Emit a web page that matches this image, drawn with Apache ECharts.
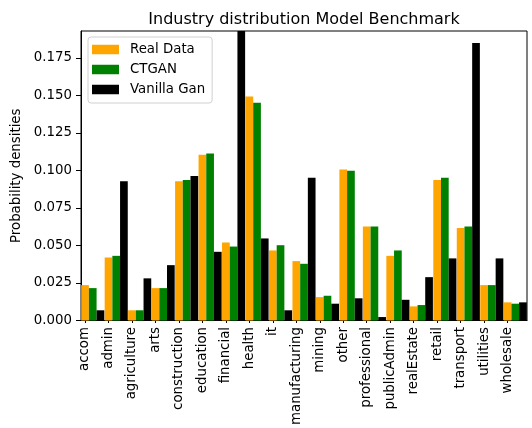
<!DOCTYPE html>
<html><head><meta charset="utf-8">
<script src="https://cdn.jsdelivr.net/npm/echarts@6/dist/echarts.min.js"></script>
<style>html,body{margin:0;padding:0;background:#fff}#c{width:532px;height:428px}</style>
</head><body><div id="c"></div>
<script>
const categories = ['accom','admin','agriculture','arts','construction','education','financial','health','it','manufacturing','mining','other','professional','publicAdmin','realEstate','retail','transport','utilities','wholesale'];
const realData = [0.0236,0.0420,0.0068,0.0216,0.0928,0.1105,0.0520,0.1493,0.0467,0.0396,0.0156,0.1007,0.0626,0.0431,0.0094,0.0937,0.0617,0.0236,0.0121];
const ctgan    = [0.0216,0.0431,0.0068,0.0216,0.0937,0.1114,0.0493,0.1451,0.0502,0.0378,0.0165,0.0999,0.0626,0.0467,0.0103,0.0952,0.0626,0.0236,0.0112];
const vanilla  = [0.0068,0.0928,0.0281,0.0369,0.0963,0.0458,0.2000,0.0547,0.0068,0.0952,0.0112,0.0148,0.0023,0.0138,0.0289,0.0414,0.1850,0.0414,0.0121];
const yTicks = [0, 0.025, 0.05, 0.075, 0.1, 0.125, 0.15, 0.175];
const yMax = 0.193;

const F = 'DejaVu Sans';
const FS = 13.33;
const chart = echarts.init(document.getElementById('c'));
const L = 81, R = 5, T = 31, B = 107.5, OFF = 7.7;
chart.setOption({
  animation: false,
  textStyle: {fontFamily: F},
  title: {text: 'Industry distribution Model Benchmark', left: 299, textAlign: 'center', top: 7,
    textStyle: {fontFamily: F, fontSize: 16, fontWeight: 'normal', color: '#000'}},
  legend: {orient: 'vertical', left: 88, top: 37, itemWidth: 27, itemHeight: 9.5, itemGap: 7, icon: 'rect',
    backgroundColor: '#fff', borderColor: '#d0d0d0', borderWidth: 1, borderRadius: 3, padding: [6, 7, 7, 4],
    textStyle: {fontFamily: F, fontSize: FS, color: '#000', padding: [0, 0, 0, 6]},
    data: ['Real Data', 'CTGAN', 'Vanilla Gan']},
  grid: [
    {left: L, right: R, top: T, bottom: B, show: true, borderColor: '#000', borderWidth: 1, backgroundColor: 'transparent'},
    {left: L - OFF, right: R + OFF, top: T, bottom: B, show: false}
  ],
  xAxis: [
    {type: 'category', gridIndex: 0, data: categories, boundaryGap: true,
     axisLine: {show: true, lineStyle: {color: '#000'}}, axisTick: {show: false}, axisLabel: {show: false}},
    {type: 'category', gridIndex: 1, data: categories, boundaryGap: true,
     axisLine: {show: false}, axisTick: {show: true, alignWithLabel: true, length: 5, lineStyle: {color: '#000'}},
     axisLabel: {rotate: 90, interval: 0, margin: 9, fontFamily: F, fontSize: FS, color: '#000'}}
  ],
  yAxis: [
    {type: 'value', gridIndex: 0, min: 0, max: yMax,
     name: 'Probability densities', nameLocation: 'middle', nameGap: 55, nameRotate: 90,
     nameTextStyle: {fontFamily: F, fontSize: FS, color: '#000'},
     axisLine: {show: true, lineStyle: {color: '#000'}},
     axisTick: {show: true, length: 5, customValues: yTicks, lineStyle: {color: '#000'}},
     axisLabel: {customValues: yTicks, margin: 9, fontFamily: F, fontSize: FS, color: '#000',
       formatter: v => v.toFixed(3)},
     splitLine: {show: false}},
    {type: 'value', gridIndex: 1, min: 0, max: yMax, show: false, splitLine: {show: false}}
  ],
  series: [
    {name: 'Real Data', type: 'bar', xAxisIndex: 0, yAxisIndex: 0, data: realData,
     barWidth: '32.8%', barGap: '0%', itemStyle: {color: '#FFA500'}},
    {name: 'CTGAN', type: 'bar', xAxisIndex: 0, yAxisIndex: 0, data: ctgan,
     barWidth: '32.8%', barGap: '0%', itemStyle: {color: '#008000'}},
    {name: 'Vanilla Gan', type: 'bar', xAxisIndex: 0, yAxisIndex: 0, data: vanilla,
     barWidth: '32.8%', barGap: '0%', itemStyle: {color: '#000000'}}
  ]
});
</script></body></html>
